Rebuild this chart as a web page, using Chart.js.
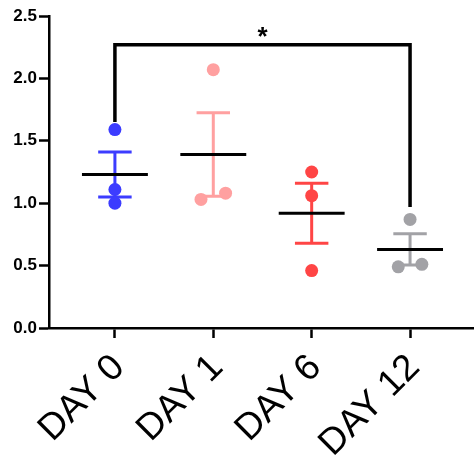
<!DOCTYPE html>
<html>
<head>
<meta charset="utf-8">
<script src="https://cdn.jsdelivr.net/npm/chart.js@4"></script>
<style>
    body { margin: 0; background: #fff; }
    canvas { display: block; }
</style>
</head>
<body>
<canvas id="chart" width="474" height="457"></canvas>
<script>
// data
const categories = ['DAY 0', 'DAY 1', 'DAY 6', 'DAY 12']
const day0 = [1.59, 1.11, 1.00]
const day1 = [2.07, 1.03, 1.08]
const day6 = [1.25, 1.06, 0.46]
const day12 = [0.87, 0.49, 0.51]
const means = [1.23, 1.39, 0.92, 0.63]
const sem = [0.18, 0.335, 0.24, 0.125]
const yTicks = [0, 0.5, 1.0, 1.5, 2.0, 2.5]
// significance bracket DAY 0 vs DAY 12
const bracketTop = 2.27
const bracketEnds = [1.65, 0.97]
const bracketLabel = '*'

const colors = ['#3c3cff', '#ffa0a0', '#ff4545', '#a2a2a6']
const groups = [day0, day1, day6, day12]
// horizontal spread of overlapping points
const spread = [[0, 0, 0], [0, -0.125, 0.125], [0, 0, 0], [0, -0.12, 0.12]]
const capHalf = 0.17
const meanHalf = 0.335

function pointSet(i) {
    return {
        type: 'scatter',
        data: groups[i].map((v, k) => ({x: i + spread[i][k], y: v})),
        backgroundColor: colors[i],
        borderWidth: 0,
        pointRadius: 6.5,
        order: 1
    }
}

function errorSet(i) {
    const hi = means[i] + sem[i]
    const lo = means[i] - sem[i]
    return {
        type: 'line',
        data: [
            {x: i - capHalf, y: hi}, {x: i + capHalf, y: hi}, {x: i, y: null},
            {x: i, y: hi}, {x: i, y: lo}, {x: i, y: null},
            {x: i - capHalf, y: lo}, {x: i + capHalf, y: lo}
        ],
        borderColor: colors[i],
        borderWidth: 3,
        borderCapStyle: 'butt',
        pointRadius: 0,
        spanGaps: false,
        order: 3
    }
}

// mean lines
const meanData = []
means.forEach((m, i) => {
    meanData.push({x: i - meanHalf, y: m}, {x: i + meanHalf, y: m}, {x: i, y: null})
})

const datasets = []
for (let i = 0; i < groups.length; i++) {
    datasets.push(pointSet(i))
    datasets.push(errorSet(i))
}
datasets.push({
    type: 'line',
    data: meanData,
    borderColor: '#000',
    borderWidth: 3,
    borderCapStyle: 'butt',
    pointRadius: 0,
    spanGaps: false,
    order: 2
})
datasets.push({
    type: 'line',
    data: [
        {x: 0, y: bracketEnds[0]}, {x: 0, y: bracketTop},
        {x: 3, y: bracketTop}, {x: 3, y: bracketEnds[1]}
    ],
    borderColor: '#000',
    borderWidth: 3.5,
    borderCapStyle: 'butt',
    borderJoinStyle: 'miter',
    pointRadius: 0,
    order: 4
})

// star above the bracket
const starPlugin = {
    id: 'star',
    afterDatasetsDraw(chart) {
        const ctx = chart.ctx
        const x = chart.scales.x.getPixelForValue(1.5)
        const y = chart.scales.y.getPixelForValue(bracketTop)
        ctx.save()
        ctx.fillStyle = '#000'
        ctx.font = 'bold 26px "Liberation Sans", Arial, sans-serif'
        ctx.textAlign = 'center'
        ctx.textBaseline = 'alphabetic'
        ctx.fillText(bracketLabel, x, y)
        ctx.restore()
    }
}

new Chart(document.querySelector('#chart').getContext('2d'), {
    type: 'scatter',
    data: {datasets: datasets},
    options: {
        responsive: false,
        animation: false,
        layout: {autoPadding: false, padding: {top: 16, right: 0, left: 0, bottom: 0}},
        plugins: {
            legend: {display: false},
            tooltip: {enabled: false}
        },
        scales: {
            x: {
                type: 'linear',
                min: -0.67,
                max: 3.65,
                afterBuildTicks: (scale) => {
                    scale.ticks = categories.map((c, i) => ({value: i}))
                },
                afterFit: (scale) => {
                    scale.height = 129
                    scale.paddingRight = 0
                    scale.paddingLeft = 0
                },
                ticks: {
                    autoSkip: false,
                    minRotation: 45,
                    maxRotation: 45,
                    padding: 8,
                    labelOffset: 4,
                    color: '#000',
                    font: {family: '"Liberation Sans", Arial, sans-serif', size: 37},
                    callback: (v) => categories[v]
                },
                grid: {
                    drawOnChartArea: false,
                    tickLength: 10,
                    tickWidth: 2.5,
                    tickColor: '#000'
                },
                border: {color: '#000', width: 2.5}
            },
            y: {
                min: 0,
                max: 2.5,
                afterBuildTicks: (scale) => {
                    scale.ticks = yTicks.map(v => ({value: v}))
                },
                afterFit: (scale) => { scale.width = 49 },
                ticks: {
                    padding: 2,
                    color: '#000',
                    font: {family: '"Liberation Sans", Arial, sans-serif', size: 17, weight: 'bold'},
                    callback: (v) => v.toFixed(1)
                },
                grid: {
                    drawOnChartArea: false,
                    tickLength: 10,
                    tickWidth: 2.5,
                    tickColor: '#000'
                },
                border: {color: '#000', width: 2.5}
            }
        }
    },
    plugins: [starPlugin]
})
</script>
</body>
</html>
